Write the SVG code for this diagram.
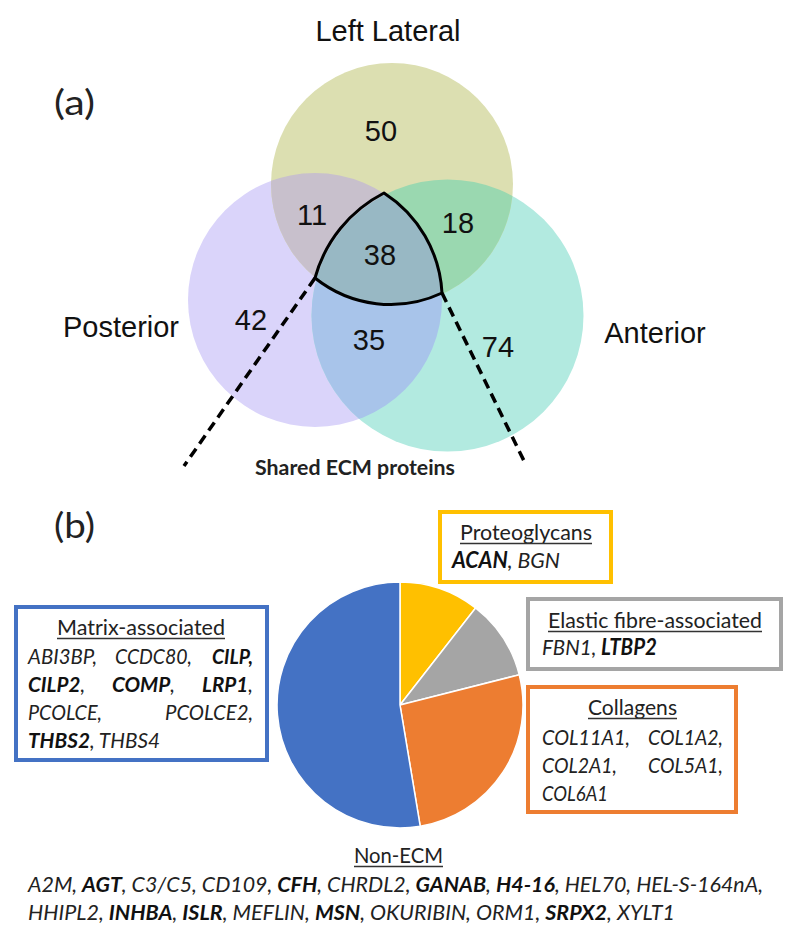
<svg xmlns="http://www.w3.org/2000/svg" width="796" height="937" viewBox="0 0 796 937">
<style>
.vl{font-family:"Liberation Sans",Arial,sans-serif;font-size:29px;fill:#111}
.lab{font-family:Lato,"Open Sans",sans-serif;fill:#222}
.t{font-family:Lato,"Open Sans",sans-serif;font-size:22px;fill:#222}
.m{font-size:21px}
.i{font-style:italic}
.b{font-weight:bold;fill:#111}
.ul{stroke:#333;stroke-width:1.4}
.box{fill:#fff;stroke-width:4}
.dash{fill:none;stroke:#000;stroke-width:3.5;stroke-dasharray:10 6}
.sl{stroke:#fff;stroke-width:1.5}
</style>
<defs>
<clipPath id="cTop"><circle cx="392" cy="184" r="121"/></clipPath>
<clipPath id="cLeft"><circle cx="315" cy="300" r="127"/></clipPath>
<clipPath id="cRight"><circle cx="447.5" cy="315.5" r="136"/></clipPath>
</defs>
<rect width="796" height="937" fill="#fff"/>

<!-- Venn -->
<g id="venn">
<g id="set-posterior"><circle cx="315" cy="300" r="127" fill="#dad4fa"/></g>
<g id="set-anterior"><circle cx="447.5" cy="315.5" r="136" fill="#b2eae0"/></g>
<g id="set-leftlateral"><circle cx="392" cy="184" r="121" fill="#dcdfb1"/></g>
<g clip-path="url(#cTop)"><circle cx="315" cy="300" r="127" fill="#c8c0cc"/></g>
<g clip-path="url(#cTop)"><circle cx="447.5" cy="315.5" r="136" fill="#9ad8b0"/></g>
<g clip-path="url(#cLeft)"><circle cx="447.5" cy="315.5" r="136" fill="#a8c4ea"/></g>
<g clip-path="url(#cTop)"><g clip-path="url(#cLeft)"><circle cx="447.5" cy="315.5" r="136" fill="#98b8c4"/></g></g>
<g id="shared-region"><path d="M384,193 A136,136 0 0 0 315,278 A121,121 0 0 0 442,293 A127,127 0 0 0 384,193 Z" fill="none" stroke="#000" stroke-width="3" stroke-linejoin="round"/></g>
<text class="vl" x="388" y="41" text-anchor="middle">Left Lateral</text>
<text class="vl" x="121" y="337" text-anchor="middle">Posterior</text>
<text class="vl" x="655" y="343" text-anchor="middle">Anterior</text>
<text class="vl" x="381" y="141" text-anchor="middle">50</text>
<text class="vl" x="312" y="225" text-anchor="middle">11</text>
<text class="vl" x="458" y="233" text-anchor="middle">18</text>
<text class="vl" x="380" y="265" text-anchor="middle">38</text>
<text class="vl" x="251" y="330" text-anchor="middle">42</text>
<text class="vl" x="369" y="350" text-anchor="middle">35</text>
<text class="vl" x="498" y="357" text-anchor="middle">74</text>
</g>

<g id="connectors">
<path class="dash" d="M315,278 L184,466"/>
<path class="dash" d="M442,293 L526,465"/>
</g>

<text class="lab" x="255" y="475" font-size="20" font-weight="bold" textLength="200" lengthAdjust="spacingAndGlyphs">Shared ECM proteins</text>
<text class="lab" x="54" y="115" font-size="35" textLength="41" lengthAdjust="spacingAndGlyphs">(a)</text>
<text class="lab" x="54" y="538" font-size="35" textLength="41" lengthAdjust="spacingAndGlyphs">(b)</text>

<!-- Pie -->
<g id="pie">
<path class="sl" d="M400,705 L400,582 A123,123 0 0 1 475.55,607.94 Z" fill="#ffc000"/>
<path class="sl" d="M400,705 L475.55,607.94 A123,123 0 0 1 519.24,674.80 Z" fill="#a5a5a5"/>
<path class="sl" d="M400,705 L519.24,674.80 A123,123 0 0 1 420.24,826.33 Z" fill="#ed7d31"/>
<path class="sl" d="M400,705 L420.24,826.33 A123,123 0 1 1 400,582 Z" fill="#4472c4"/>
</g>

<g id="box-proteoglycans">
<rect class="box" x="440" y="512" width="171" height="70" stroke="#ffc000"/>
<text class="t" x="460" y="540" textLength="132" lengthAdjust="spacingAndGlyphs">Proteoglycans</text>
<line class="ul" x1="460" y1="543.5" x2="592" y2="543.5"/>
<text class="t i" x="452" y="568" textLength="108" lengthAdjust="spacingAndGlyphs"><tspan class="b">ACAN</tspan>, BGN</text>
</g>

<g id="box-elastic">
<rect class="box" x="528" y="599" width="253" height="70" stroke="#a5a5a5"/>
<text class="t" x="548" y="628" textLength="214" lengthAdjust="spacingAndGlyphs">Elastic fibre-associated</text>
<line class="ul" x1="548" y1="631.5" x2="762" y2="631.5"/>
<text class="t i" x="542" y="655" textLength="115" lengthAdjust="spacingAndGlyphs">FBN1, <tspan class="b">LTBP2</tspan></text>
</g>

<g id="box-collagens">
<rect class="box" x="528" y="687" width="208" height="125" stroke="#ed7d31"/>
<text class="t" x="588" y="715" textLength="89" lengthAdjust="spacingAndGlyphs">Collagens</text>
<line class="ul" x1="588" y1="718.5" x2="677" y2="718.5"/>
<text class="t i" x="542" y="745" textLength="88" lengthAdjust="spacingAndGlyphs">COL11A1,</text>
<text class="t i" x="648" y="745" textLength="75" lengthAdjust="spacingAndGlyphs">COL1A2,</text>
<text class="t i" x="542" y="773" textLength="75" lengthAdjust="spacingAndGlyphs">COL2A1,</text>
<text class="t i" x="648" y="773" textLength="75" lengthAdjust="spacingAndGlyphs">COL5A1,</text>
<text class="t i" x="542" y="801" textLength="66" lengthAdjust="spacingAndGlyphs">COL6A1</text>
</g>

<g id="box-matrix">
<rect class="box" x="16" y="607" width="251" height="153" stroke="#4472c4"/>
<text class="t" x="57" y="635" textLength="168" lengthAdjust="spacingAndGlyphs">Matrix-associated</text>
<line class="ul" x1="57" y1="638.5" x2="225" y2="638.5"/>
<text class="t m i" x="28" y="664" textLength="69" lengthAdjust="spacingAndGlyphs">ABI3BP,</text>
<text class="t m i" x="115" y="664" textLength="77" lengthAdjust="spacingAndGlyphs">CCDC80,</text>
<text class="t m i b" x="212" y="664" textLength="41" lengthAdjust="spacingAndGlyphs">CILP,</text>
<text class="t m i" x="28" y="692" textLength="57" lengthAdjust="spacingAndGlyphs"><tspan class="b">CILP2</tspan>,</text>
<text class="t m i" x="112" y="692" textLength="63" lengthAdjust="spacingAndGlyphs"><tspan class="b">COMP</tspan>,</text>
<text class="t m i" x="202" y="692" textLength="51" lengthAdjust="spacingAndGlyphs"><tspan class="b">LRP1</tspan>,</text>
<text class="t m i" x="28" y="720" textLength="74" lengthAdjust="spacingAndGlyphs">PCOLCE,</text>
<text class="t m i" x="165" y="720" textLength="88" lengthAdjust="spacingAndGlyphs">PCOLCE2,</text>
<text class="t m i" x="28" y="748" textLength="132" lengthAdjust="spacingAndGlyphs"><tspan class="b">THBS2</tspan>, THBS4</text>
</g>

<g id="nonecm">
<text class="t" x="354" y="863" textLength="89" lengthAdjust="spacingAndGlyphs">Non-ECM</text>
<line class="ul" x1="354" y1="866.5" x2="443" y2="866.5"/>
<text class="t m i" x="28" y="892" textLength="735" lengthAdjust="spacingAndGlyphs">A2M, <tspan class="b">AGT</tspan>, C3/C5, CD109, <tspan class="b">CFH</tspan>, CHRDL2, <tspan class="b">GANAB</tspan>, <tspan class="b">H4-16</tspan>, HEL70, HEL-S-164nA,</text>
<text class="t m i" x="28" y="920" textLength="647" lengthAdjust="spacingAndGlyphs">HHIPL2, <tspan class="b">INHBA</tspan>, <tspan class="b">ISLR</tspan>, MEFLIN, <tspan class="b">MSN</tspan>, OKURIBIN, ORM1, <tspan class="b">SRPX2</tspan>, XYLT1</text>
</g>
</svg>
